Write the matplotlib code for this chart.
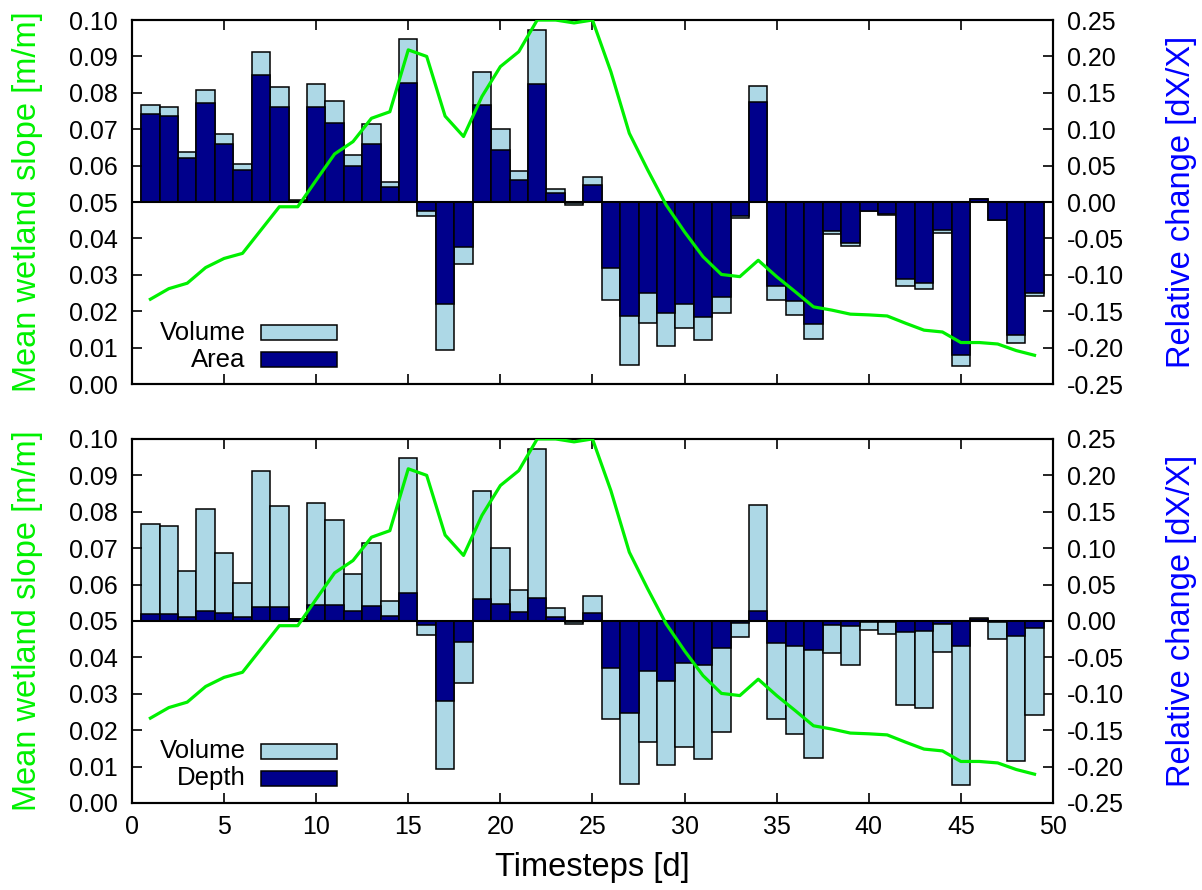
import numpy as np
import matplotlib
matplotlib.use("Agg")
import matplotlib.pyplot as plt
from matplotlib.patches import Rectangle

plt.rcParams['font.family'] = ['Liberation Sans', 'DejaVu Sans']

timesteps = list(range(1, 50))

volume = [0.133, 0.130, 0.069, 0.154, 0.093, 0.052, 0.206, 0.158, 0.003, 0.162,
          0.139, 0.065, 0.107, 0.027, 0.224, -0.019, -0.203, -0.085, 0.179, 0.100,
          0.043, 0.236, 0.018, -0.004, 0.034, -0.135, -0.224, -0.166, -0.198, -0.173,
          -0.190, -0.152, -0.0215, 0.159, -0.134, -0.155, -0.188, -0.0435, -0.060, -0.012,
          -0.018, -0.115, -0.120, -0.042, -0.225, 0.004, -0.025, -0.193, -0.129]

area = [0.121, 0.118, 0.061, 0.136, 0.080, 0.044, 0.174, 0.130, 0.002, 0.130,
        0.109, 0.050, 0.080, 0.020, 0.164, -0.013, -0.140, -0.062, 0.133, 0.071,
        0.030, 0.162, 0.012, -0.002, 0.023, -0.091, -0.157, -0.125, -0.153, -0.140,
        -0.158, -0.130, -0.019, 0.138, -0.115, -0.136, -0.167, -0.040, -0.056, -0.012,
        -0.017, -0.106, -0.111, -0.039, -0.210, 0.004, -0.024, -0.182, -0.125]

depth = [0.009, 0.010, 0.006, 0.013, 0.011, 0.006, 0.019, 0.019, 0.002, 0.022,
         0.022, 0.013, 0.021, 0.007, 0.038, -0.006, -0.110, -0.029, 0.030, 0.023,
         0.012, 0.032, 0.006, -0.002, 0.011, -0.064, -0.127, -0.069, -0.082, -0.058,
         -0.060, -0.037, -0.003, 0.014, -0.030, -0.034, -0.040, -0.0055, -0.007, -0.001,
         -0.002, -0.015, -0.014, -0.004, -0.034, 0.002, -0.002, -0.021, -0.009]

slope = [0.0233, 0.0262, 0.0277, 0.0320, 0.0345, 0.0359, 0.0423, 0.0487, 0.0487, 0.0560,
         0.0632, 0.0666, 0.0730, 0.0748, 0.0918, 0.0900, 0.0736, 0.0680, 0.0790, 0.0872,
         0.0913, 0.1000, 0.1000, 0.0992, 0.1000, 0.0858, 0.0689, 0.0588, 0.0492, 0.0418,
         0.0350, 0.0301, 0.0295, 0.0340, 0.0295, 0.0254, 0.0212, 0.0203, 0.0192, 0.0190,
         0.0187, 0.0167, 0.0148, 0.0143, 0.0114, 0.0114, 0.0110, 0.0092, 0.0079]

left_ticks = [0.00, 0.01, 0.02, 0.03, 0.04, 0.05, 0.06, 0.07, 0.08, 0.09, 0.10]
right_ticks = [-0.25, -0.20, -0.15, -0.10, -0.05, 0.00, 0.05, 0.10, 0.15, 0.20, 0.25]
x_ticks = [0, 5, 10, 15, 20, 25, 30, 35, 40, 45, 50]

GREEN = '#00f000'
BLUE = '#0000ff'
LIGHT = '#add8e6'
NAVY = '#00008b'

TICK_FS = 18
LABEL_FS = 23.5
KEY_FS = 18.5

fig = plt.figure(figsize=(12.02, 8.90), dpi=100)

W = 0.7662
L = 0.1098
panels = [(0.5685, 'Area', area, False), (0.0978, 'Depth', depth, True)]

for bottom, name, inner, show_x in panels:
    ax = fig.add_axes([L, bottom, W, 0.409])
    ax2 = ax.twinx()
    ax.set_zorder(ax2.get_zorder() + 1)
    ax.patch.set_visible(False)

    ax2.bar(timesteps, volume, width=1.0, color=LIGHT, edgecolor='black', linewidth=1.1, zorder=2)
    ax2.bar(timesteps, inner, width=1.0, color=NAVY, edgecolor='black', linewidth=1.1, zorder=3)
    ax2.axhline(0, color='black', lw=1.5, zorder=4)

    ax.plot(timesteps, slope, color=GREEN, lw=2.3, zorder=5)

    ax.set_xlim(0, 50)
    ax.set_ylim(0, 0.10)
    ax2.set_ylim(-0.25, 0.25)
    ax.set_yticks(left_ticks)
    ax.set_yticklabels([f'{v:.2f}' for v in left_ticks])
    ax2.set_yticks(right_ticks)
    ax2.set_yticklabels([f'{v:.2f}' for v in right_ticks])
    ax.set_xticks(x_ticks)
    if show_x:
        ax.set_xticklabels([str(v) for v in x_ticks])
        ax.set_xlabel('Timesteps [d]', fontsize=LABEL_FS, labelpad=9)
    else:
        ax.set_xticklabels([])

    ax.tick_params(axis='x', direction='in', length=7, width=1.2, top=True,
                   labelsize=TICK_FS, pad=9)
    ax.tick_params(axis='y', direction='in', length=7, width=1.2, labelsize=TICK_FS, pad=10)
    ax2.tick_params(axis='y', direction='in', length=7, width=1.2, labelsize=TICK_FS, pad=10)
    ax2.tick_params(axis='x', top=False, bottom=False)
    for a in (ax, ax2):
        for s in a.spines.values():
            s.set_linewidth(1.5)

    ax.set_ylabel('Mean wetland slope [m/m]', color=GREEN, fontsize=LABEL_FS)
    ax.yaxis.set_label_coords(-0.097, 0.5)
    ax2.set_ylabel('Relative change [dX/X]', color=BLUE, fontsize=LABEL_FS)
    ax2.yaxis.set_label_coords(1.123, 0.5)

    # gnuplot-style key: text right-aligned, swatch to the right
    ax.text(0.1236, 0.1415, 'Volume', transform=ax.transAxes, ha='right', va='center',
            fontsize=KEY_FS, zorder=10)
    ax.text(0.1236, 0.0673, name, transform=ax.transAxes, ha='right', va='center',
            fontsize=KEY_FS, zorder=10)
    ax.add_patch(Rectangle((0.140, 0.121), 0.0826, 0.041, transform=ax.transAxes,
                           facecolor=LIGHT, edgecolor='black', lw=1.1, zorder=10))
    ax.add_patch(Rectangle((0.140, 0.047), 0.0826, 0.041, transform=ax.transAxes,
                           facecolor=NAVY, edgecolor='black', lw=1.1, zorder=10))

fig.savefig('out.png', dpi=100)
